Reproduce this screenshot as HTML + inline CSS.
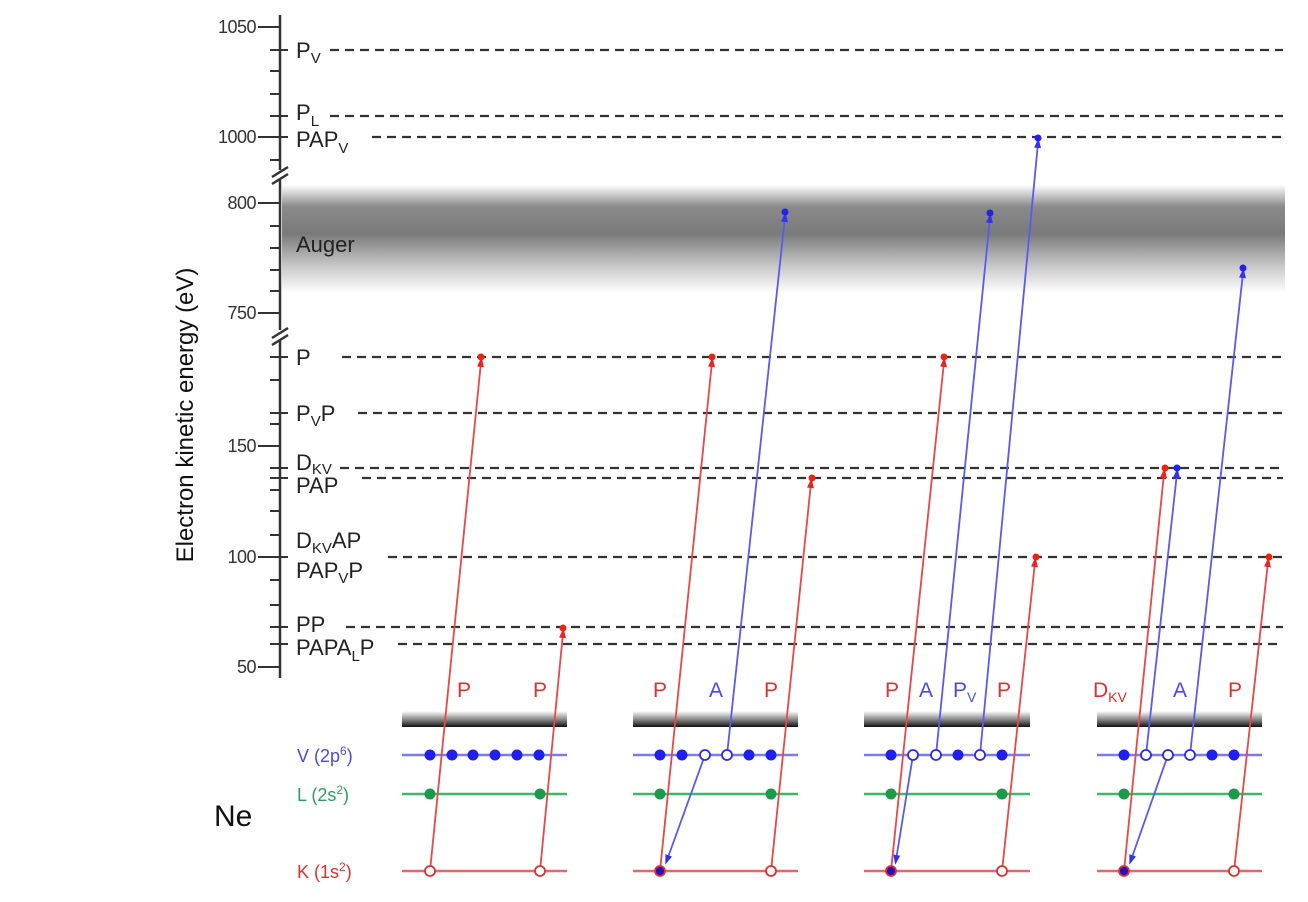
<!DOCTYPE html>
<html><head><meta charset="utf-8"><style>
html,body{margin:0;padding:0;background:#fff}
svg{display:block;font-family:"Liberation Sans",sans-serif}
</style></head><body>
<svg width="1308" height="902" viewBox="0 0 1308 902" xmlns="http://www.w3.org/2000/svg">
<defs>
<linearGradient id="aug" x1="0" y1="0" x2="0" y2="1">
<stop offset="0" stop-color="#fff"/>
<stop offset="0.2" stop-color="#8a8a8a"/>
<stop offset="0.45" stop-color="#7a7a7a"/>
<stop offset="0.75" stop-color="#c8c8c8"/>
<stop offset="1" stop-color="#fff"/>
</linearGradient>
<linearGradient id="bar" x1="0" y1="0" x2="0" y2="1">
<stop offset="0" stop-color="#fff"/>
<stop offset="0.6" stop-color="#777"/>
<stop offset="1" stop-color="#111"/>
</linearGradient>
<marker id="ar" markerWidth="10" markerHeight="10" refX="5" refY="5" orient="auto" markerUnits="userSpaceOnUse"><path d="M0,1.5 L10,5 L0,8.5z" fill="#e22"/></marker>
<marker id="ab" markerWidth="10" markerHeight="10" refX="5" refY="5" orient="auto" markerUnits="userSpaceOnUse"><path d="M0,1.5 L10,5 L0,8.5z" fill="#33e"/></marker>
</defs>

<rect x="282" y="185" width="1003" height="108" fill="url(#aug)"/>

<!-- axis -->
<g stroke="#333" stroke-width="2.5" fill="none">
<line x1="280" y1="15" x2="280" y2="170"/>
<line x1="280" y1="180" x2="280" y2="330"/>
<line x1="280" y1="340" x2="280" y2="678"/>
<line x1="272" y1="177" x2="288" y2="167"/><line x1="272" y1="184" x2="288" y2="174"/>
<line x1="272" y1="338" x2="288" y2="328"/><line x1="272" y1="345" x2="288" y2="335"/>
<g stroke-width="2">
<line x1="258" y1="27" x2="280" y2="27"/><line x1="258" y1="137" x2="280" y2="137"/>
<line x1="258" y1="203" x2="280" y2="203"/><line x1="258" y1="313" x2="280" y2="313"/>
<line x1="258" y1="446" x2="280" y2="446"/><line x1="258" y1="557" x2="280" y2="557"/>
<line x1="258" y1="667" x2="280" y2="667"/>
<path d="M270 50H288M270 71H280M270 94H280M270 116H288M270 137H288M270 160H280
M270 226H280M270 248H280M270 270H280M270 291H280
M270 357H288M270 380H280M270 413H288M270 424H280M270 468H288M270 478H288M270 490H280M270 511H280M270 535H280M270 557H288M270 580H280M270 605H280M270 627H288M270 644H288"/>
</g>
</g>
<g font-size="18" fill="#333" text-anchor="end" letter-spacing="-0.5">
<text x="256" y="33">1050</text><text x="256" y="143">1000</text>
<text x="256" y="209">800</text><text x="256" y="319">750</text>
<text x="256" y="452">150</text><text x="256" y="563">100</text>
<text x="256" y="673">50</text>
</g>
<text transform="translate(193,415) rotate(-90)" font-size="24" fill="#111" text-anchor="middle">Electron kinetic energy (eV)</text>

<!-- dashed lines -->
<g stroke="#333" stroke-width="2.2" stroke-dasharray="9,6">
<line x1="330" y1="50" x2="1283" y2="50"/>
<line x1="330" y1="116" x2="1283" y2="116"/>
<line x1="372" y1="137" x2="1283" y2="137"/>
<line x1="342" y1="357" x2="1283" y2="357"/>
<line x1="358" y1="413" x2="1283" y2="413"/>
<line x1="340" y1="468" x2="1283" y2="468"/>
<line x1="362" y1="478" x2="1283" y2="478"/>
<line x1="388" y1="557" x2="1283" y2="557"/>
<line x1="346" y1="627" x2="1283" y2="627"/>
<line x1="398" y1="644" x2="1283" y2="644"/>
</g>
<g font-size="22" fill="#222">
<text x="296" y="58">P<tspan font-size="15" dy="5">V</tspan></text>
<text x="296" y="120">P<tspan font-size="15" dy="6">L</tspan></text>
<text x="296" y="147">PAP<tspan font-size="15" dy="6">V</tspan></text>
<text x="296" y="252">Auger</text>
<text x="296" y="365">P</text>
<text x="296" y="421">P<tspan font-size="15" dy="5">V</tspan><tspan dy="-5">P</tspan></text>
<text x="296" y="470">D<tspan font-size="15" dy="4">KV</tspan></text>
<text x="296" y="493">PAP</text>
<text x="296" y="548">D<tspan font-size="15" dy="5">KV</tspan><tspan dy="-5">AP</tspan></text>
<text x="296" y="578">PAP<tspan font-size="15" dy="5">V</tspan><tspan dy="-5">P</tspan></text>
<text x="296" y="632">PP</text>
<text x="296" y="655">PAPA<tspan font-size="15" dy="6">L</tspan><tspan dy="-6">P</tspan></text>
</g>

<!-- bottom labels -->
<text x="214" y="826" font-size="30" fill="#111">Ne</text>
<text x="297" y="762" font-size="18" fill="#4a4ae8">V (2p<tspan font-size="12" dy="-7">6</tspan><tspan dy="7">)</tspan></text>
<text x="297" y="801" font-size="18" fill="#2aa05a">L (2s<tspan font-size="12" dy="-7">2</tspan><tspan dy="7">)</tspan></text>
<text x="297" y="878" font-size="18" fill="#e03030">K (1s<tspan font-size="12" dy="-7">2</tspan><tspan dy="7">)</tspan></text>

<!-- panels bars and levels -->
<g>
<rect x="402" y="711" width="165" height="16" fill="url(#bar)"/>
<rect x="633" y="711" width="165" height="16" fill="url(#bar)"/>
<rect x="864" y="711" width="166" height="16" fill="url(#bar)"/>
<rect x="1097" y="711" width="165" height="16" fill="url(#bar)"/>
</g>
<g stroke-width="2.5">
<g stroke="#7a7af5"><line x1="402" y1="755" x2="567" y2="755"/><line x1="633" y1="755" x2="798" y2="755"/><line x1="864" y1="755" x2="1030" y2="755"/><line x1="1097" y1="755" x2="1262" y2="755"/></g>
<g stroke="#3cb76a"><line x1="402" y1="794" x2="567" y2="794"/><line x1="633" y1="794" x2="798" y2="794"/><line x1="864" y1="794" x2="1030" y2="794"/><line x1="1097" y1="794" x2="1262" y2="794"/></g>
<g stroke="#ea6666"><line x1="402" y1="871" x2="567" y2="871"/><line x1="633" y1="871" x2="798" y2="871"/><line x1="864" y1="871" x2="1030" y2="871"/><line x1="1097" y1="871" x2="1262" y2="871"/></g>
</g>

<!-- transitions -->
<g stroke-width="1.8" fill="none">
<g stroke="#e84848">
<line x1="430" y1="871" x2="481" y2="362" marker-end="url(#ar)"/>
<line x1="540" y1="871" x2="563" y2="633" marker-end="url(#ar)"/>
<line x1="660" y1="871" x2="712" y2="362" marker-end="url(#ar)"/>
<line x1="771" y1="871" x2="811" y2="483" marker-end="url(#ar)"/>
<line x1="891" y1="871" x2="944" y2="362" marker-end="url(#ar)"/>
<line x1="1002" y1="871" x2="1035" y2="562" marker-end="url(#ar)"/>
<line x1="1124" y1="871" x2="1164" y2="473" marker-end="url(#ar)"/>
<line x1="1234" y1="871" x2="1268" y2="562" marker-end="url(#ar)"/>
</g>
<g stroke="#5a5af0">
<line x1="727" y1="755" x2="785" y2="217" marker-end="url(#ab)"/>
<line x1="705" y1="755" x2="667" y2="860" marker-end="url(#ab)"/>
<line x1="980" y1="755" x2="1038" y2="143" marker-end="url(#ab)"/>
<line x1="936" y1="755" x2="990" y2="218" marker-end="url(#ab)"/>
<line x1="913" y1="755" x2="896" y2="860" marker-end="url(#ab)"/>
<line x1="1146" y1="755" x2="1177" y2="473" marker-end="url(#ab)"/>
<line x1="1190" y1="755" x2="1243" y2="273" marker-end="url(#ab)"/>
<line x1="1168" y1="755" x2="1131" y2="860" marker-end="url(#ab)"/>
</g>
</g>
<!-- end dots -->
<g fill="#e21">
<circle cx="481" cy="357" r="3.5"/><circle cx="563" cy="628" r="3.5"/><circle cx="712" cy="357" r="3.5"/><circle cx="812" cy="478" r="3.5"/><circle cx="944" cy="357" r="3.5"/><circle cx="1036" cy="557" r="3.5"/><circle cx="1165" cy="468" r="3.5"/><circle cx="1269" cy="557" r="3.5"/>
</g>
<g fill="#22e">
<circle cx="785" cy="212" r="3.5"/><circle cx="1038" cy="138" r="3.5"/><circle cx="990" cy="213" r="3.5"/><circle cx="1177" cy="468" r="3.5"/><circle cx="1243" cy="268" r="3.5"/>
</g>

<!-- electrons -->
<g fill="#1f1fee">
<circle cx="430" cy="755" r="5.5"/><circle cx="452" cy="755" r="5.5"/><circle cx="473" cy="755" r="5.5"/><circle cx="495" cy="755" r="5.5"/><circle cx="517" cy="755" r="5.5"/><circle cx="539" cy="755" r="5.5"/>
<circle cx="660" cy="755" r="5.5"/><circle cx="682" cy="755" r="5.5"/><circle cx="749" cy="755" r="5.5"/><circle cx="771" cy="755" r="5.5"/>
<circle cx="891" cy="755" r="5.5"/><circle cx="958" cy="755" r="5.5"/><circle cx="1002" cy="755" r="5.5"/>
<circle cx="1124" cy="755" r="5.5"/><circle cx="1212" cy="755" r="5.5"/><circle cx="1234" cy="755" r="5.5"/>
</g>
<g fill="#fff" stroke="#2a2aee" stroke-width="1.8">
<circle cx="705" cy="755" r="5"/><circle cx="727" cy="755" r="5"/>
<circle cx="913" cy="755" r="5"/><circle cx="936" cy="755" r="5"/><circle cx="980" cy="755" r="5"/>
<circle cx="1146" cy="755" r="5"/><circle cx="1168" cy="755" r="5"/><circle cx="1190" cy="755" r="5"/>
</g>
<g fill="#1a9a4a">
<circle cx="430" cy="794" r="5.5"/><circle cx="540" cy="794" r="5.5"/><circle cx="660" cy="794" r="5.5"/><circle cx="771" cy="794" r="5.5"/><circle cx="891" cy="794" r="5.5"/><circle cx="1002" cy="794" r="5.5"/><circle cx="1124" cy="794" r="5.5"/><circle cx="1234" cy="794" r="5.5"/>
</g>
<g fill="#fff" stroke="#e03030" stroke-width="1.8">
<circle cx="430" cy="871" r="5"/><circle cx="540" cy="871" r="5"/><circle cx="771" cy="871" r="5"/><circle cx="1002" cy="871" r="5"/><circle cx="1234" cy="871" r="5"/>
</g>
<g fill="#2a10c0" stroke="#e03030" stroke-width="1.8">
<circle cx="660" cy="871" r="5"/><circle cx="891" cy="871" r="5"/><circle cx="1124" cy="871" r="5"/>
</g>

<!-- process labels -->
<g font-size="21">
<text x="457" y="697" fill="#e03030">P</text><text x="533" y="697" fill="#e03030">P</text>
<text x="653" y="697" fill="#e03030">P</text><text x="709" y="697" fill="#4a4ae0">A</text><text x="764" y="697" fill="#e03030">P</text>
<text x="885" y="697" fill="#e03030">P</text><text x="919" y="697" fill="#4a4ae0">A</text><text x="953" y="697" fill="#4a4ae0">P<tspan font-size="14" dy="5">V</tspan></text><text x="997" y="697" fill="#e03030">P</text>
<text x="1093" y="697" fill="#e03030">D<tspan font-size="14" dy="5">KV</tspan></text><text x="1173" y="697" fill="#4a4ae0">A</text><text x="1228" y="697" fill="#e03030">P</text>
</g>
</svg>
</body></html>
